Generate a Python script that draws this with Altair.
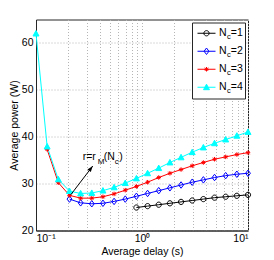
import altair as alt
import pandas as pd

# ---- data ----
delay_n1 = [0.8859, 1.129, 1.438, 1.833, 2.336, 2.976, 3.793, 4.833, 6.158, 7.848, 10.0]
power_n1 = [24.9, 25.2, 25.5, 25.8, 26.1, 26.4, 26.7, 27.0, 27.2, 27.4, 27.6]

delay_n2 = [0.2069, 0.2637, 0.336, 0.4281, 0.5456, 0.6952, 0.8859, 1.129, 1.438,
            1.833, 2.336, 2.976, 3.793, 4.833, 6.158, 7.848, 10.0]
power_n2 = [26.7, 25.9, 25.7, 25.8, 26.2, 26.7, 27.3, 27.9, 28.5,
            29.1, 29.7, 30.3, 30.8, 31.3, 31.7, 32.0, 32.2]

delay_n3 = [0.1274, 0.1624, 0.2069, 0.2637, 0.336, 0.4281, 0.5456, 0.6952, 0.8859,
            1.129, 1.438, 1.833, 2.336, 2.976, 3.793, 4.833, 6.158, 7.848, 10.0]
power_n3 = [37.3, 30.2, 27.5, 26.9, 26.9, 27.2, 27.8, 28.6, 29.4,
            30.3, 31.3, 32.2, 33.0, 33.8, 34.5, 35.2, 35.7, 36.2, 36.6]

delay_n4 = [0.1, 0.1274, 0.1624, 0.2069, 0.2637, 0.336, 0.4281, 0.5456, 0.6952, 0.8859,
            1.129, 1.438, 1.833, 2.336, 2.976, 3.793, 4.833, 6.158, 7.848, 10.0]
power_n4 = [62.0, 37.9, 30.9, 28.4, 27.9, 28.0, 28.5, 29.2, 30.1, 31.1,
            32.2, 33.3, 34.5, 35.6, 36.7, 37.7, 38.6, 39.4, 40.2, 41.0]

series_names = ["1", "2", "3", "4"]
marker_keys = ["m1", "m2", "m3", "m4"]
series_colors = ["#000000", "#0000FF", "#FF0000", "#00FFFF"]
series_fills = ["transparent", "transparent", "transparent", "#00FFFF"]
marker_paths = [
    "M0.29,0A0.29,0.29,0,1,1,-0.29,0A0.29,0.29,0,1,1,0.29,0Z",
    "M0,-0.36L0.27,0L0,0.36L-0.27,0Z",
    "M-0.25,0L0.25,0M0,-0.25L0,0.25M-0.18,-0.18L0.18,0.18M-0.18,0.18L0.18,-0.18",
    "M0,-0.34L0.33,0.27L-0.33,0.27Z",
]

x_grid = [0.1, 0.2, 0.3, 0.4, 0.5, 0.6, 0.7, 0.8, 0.9,
          1, 2, 3, 4, 5, 6, 7, 8, 9, 10]
y_ticks = [20, 25, 30, 35, 40, 45, 50, 55, 60, 65]

ann_x = [0.27]
ann_y = [35.0]
arrow_x = [0.2125, 0.343]
arrow_y = [27.6, 33.75]

FONT = "Liberation Sans"

rows = []
for name, key, xs, ys in [("1", "m1", delay_n1, power_n1), ("2", "m2", delay_n2, power_n2),
                          ("3", "m3", delay_n3, power_n3), ("4", "m4", delay_n4, power_n4)]:
    for xv, yv in zip(xs, ys):
        rows.append({"series": name, "marker": key, "delay": xv, "power": yv})
df = pd.DataFrame(rows)

x_enc = alt.X("delay:Q",
              scale=alt.Scale(type="log", domain=[0.1, 10], nice=False),
              axis=alt.Axis(values=x_grid, title="Average delay (s)",
                            labelExpr="datum.value == 0.1 ? '10\u207b\u00b9' : datum.value == 1 ? '10\u2070' : datum.value == 10 ? '10\u00b9' : ''",
                            grid=True, gridDash=[1, 2], gridColor="#b5b5b5",
                            ticks=False, labelPadding=3, titlePadding=2,
                            domainColor="#262626"))
y_enc = alt.Y("power:Q",
              scale=alt.Scale(domain=[20, 65], nice=False),
              axis=alt.Axis(values=y_ticks, title="Average power (W)",
                            grid=True, gridDash=[1, 2], gridColor="#b5b5b5",
                            ticks=False, labelPadding=3, titlePadding=2,
                            domainColor="#262626"))

legend_common = dict(title=None, orient="none", legendX=156, legendY=3,
                     direction="vertical", padding=2, rowPadding=0, clipHeight=17.5,
                     symbolOffset=3, symbolSize=324, symbolStrokeWidth=1, cornerRadius=0)

lines = alt.Chart(df).mark_line(strokeWidth=1).encode(
    x=x_enc, y=y_enc,
    color=alt.Color("series:N", scale=alt.Scale(domain=series_names, range=series_colors),
                    legend=alt.Legend(symbolType="stroke", labelFont=FONT, labelFontSize=10.5,
                                      labelOffset=3, labelColor="black",
                                      labelExpr="'N\u2009\u2009=' + datum.label",
                                      strokeColor="#262626", fillColor="white",
                                      **legend_common)),
    order="delay:Q",
)

leg2 = alt.Legend(labelFont=FONT, labelFontSize=7.5, labelOffset=10.9, labelColor="black",
                  labelExpr="'c'", labelBaseline="top", **legend_common)

points = alt.Chart(df).mark_point(size=324, strokeWidth=1, opacity=1).encode(
    x="delay:Q", y="power:Q",
    stroke=alt.Stroke("marker:N", scale=alt.Scale(domain=marker_keys, range=series_colors), legend=leg2),
    fill=alt.Fill("marker:N", scale=alt.Scale(domain=marker_keys, range=series_fills), legend=leg2),
    shape=alt.Shape("marker:N", scale=alt.Scale(domain=marker_keys, range=marker_paths), legend=leg2),
)

ann_df = pd.DataFrame({"x": ann_x, "y": ann_y})
arrow_df = pd.DataFrame({"x": arrow_x, "y": arrow_y})
tip_df = pd.DataFrame({"x": arrow_x[1:], "y": arrow_y[1:]})

arrow_line = alt.Chart(arrow_df).mark_line(color="black", strokeWidth=1).encode(x="x:Q", y="y:Q")
arrow_head = alt.Chart(tip_df).mark_point(
    shape="M0,0L0.35,1L-0.35,1Z", size=144, filled=True, color="black", angle=37, opacity=1
).encode(x="x:Q", y="y:Q")

parts = [("r=r", 1, 0, 10.5), ("M", 16, 3.5, 8), ("(N", 22, 0, 10.5), ("c", 33, 3.5, 8), (")", 37.5, 0, 10.5)]
texts = []
for t, dx, dy, fs in parts:
    texts.append(alt.Chart(ann_df).mark_text(text=t, align="left", baseline="alphabetic",
                                              dx=dx, dy=dy, font=FONT, fontSize=fs, color="black")
                 .encode(x="x:Q", y="y:Q"))

chart = alt.layer(lines, points, arrow_line, arrow_head, *texts).properties(
    width=212, height=211,
    padding={"left": 28, "top": 11.5, "right": 18, "bottom": 29.5},
    autosize=alt.AutoSizeParams(type="none"),
).configure_view(stroke="#262626", strokeWidth=1).configure_axis(
    labelFont=FONT, titleFont=FONT, labelFontSize=10.5, titleFontSize=10.5,
    labelColor="black", titleColor="black", titleFontWeight="normal"
)

chart.save("out.html", embed_options={"renderer": "svg", "actions": False})
